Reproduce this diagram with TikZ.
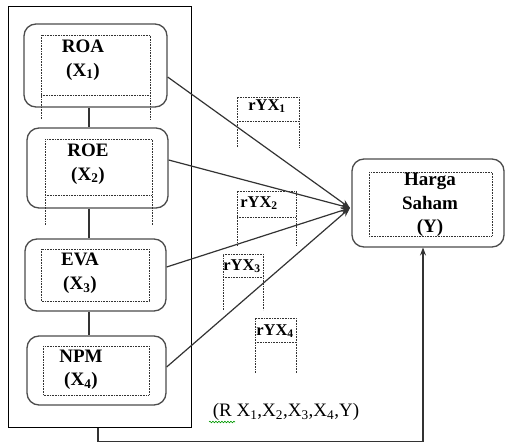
\documentclass[tikz,border=0pt]{standalone}
\usepackage{fontspec}
\setmainfont{Liberation Serif}
\usetikzlibrary{arrows.meta,decorations.pathmorphing}
\begin{document}
\begin{tikzpicture}[x=1pt,y=-1pt,
  rbox/.style={draw=black!70, line width=1.3pt, rounded corners=12pt, inner sep=0pt},
  outerbox/.style={draw=black, line width=1pt, inner sep=0pt},
  dotbox/.style={draw=black!80, line width=0.7pt, dash pattern=on 0.8pt off 0.8pt},
  txt/.style={font=\bfseries\fontsize{19}{23.5}\selectfont, align=center, inner sep=0pt},
  rtxt/.style={font=\bfseries\fontsize{16.5}{18}\selectfont, inner sep=0pt},
  link/.style={draw=black!80, line width=1.1pt},
  conn/.style={draw=black!80, line width=1.2pt, -{Stealth[length=9pt,width=7pt]}},
]
\useasboundingbox (0,0) rectangle (506,443);

% outer group
\node[outerbox, minimum width=183pt, minimum height=420pt] (outer) at (99.5,217) {};

% predictor boxes
\node[rbox, minimum width=143pt, minimum height=83pt] (roa) at (95.5,65.5) {};
\node[rbox, minimum width=141pt, minimum height=80pt] (roe) at (97.5,168) {};
\node[rbox, minimum width=141pt, minimum height=72pt] (eva) at (95.5,275) {};
\node[rbox, minimum width=139pt, minimum height=69pt] (npm) at (96.5,370.5) {};
\node[rbox, minimum width=152pt, minimum height=88pt] (harga) at (428,203) {};

% inner dotted frames
\draw[dotbox] (41,119) -- (41,35) -- (150,35) -- (150,119) (41,95) -- (150,95);
\draw[dotbox] (45,225) -- (45,139) -- (152,139) -- (152,225) (45,195) -- (152,195);
\draw[dotbox] (41,249) rectangle (149,301);
\draw[dotbox] (43,346) rectangle (149,395);
\draw[dotbox] (369,172) rectangle (492,236);

% rYX frames
\draw[dotbox] (237,147) -- (237,97) -- (299,97) -- (299,147) (237,121) -- (299,121);
\draw[dotbox] (237,246) -- (237,191) -- (296,191) -- (296,246) (237,217) -- (296,217);
\draw[dotbox] (223,310) -- (223,254) -- (263,254) -- (263,310) (223,277) -- (263,277);
\draw[dotbox] (255,373) -- (255,318) -- (296,318) -- (296,373) (255,342) -- (296,342);

% texts
\node[txt] (troa) at (83,60) {ROA\\(X\textsubscript{1})};
\node[txt] (troe) at (88,164) {ROE\\(X\textsubscript{2})};
\node[txt] (teva) at (80,273.5) {EVA\\(X\textsubscript{3})};
\node[txt] (tnpm) at (81,370) {NPM\\(X\textsubscript{4})};
\node[txt] (tharga) at (430,205) {Harga\\Saham\\(Y)};

\node[rtxt] (r1) at (267,106) {rYX\textsubscript{1}};
\node[rtxt] (r2) at (259,203) {rYX\textsubscript{2}};
\node[rtxt] (r3) at (242,266) {rYX\textsubscript{3}};
\node[rtxt] (r4) at (275,331) {rYX\textsubscript{4}};

\node[font=\fontsize{19}{20}\selectfont, inner sep=0pt] (rall) at (286,412)
  {(R X\textsubscript{1},X\textsubscript{2},X\textsubscript{3},X\textsubscript{4},Y)};
\draw[green!60!black, line width=0.6pt, decorate,
  decoration={snake, amplitude=0.8pt, segment length=3pt}] (209,422) -- (235,422);

% vertical links
\draw[link] ([xshift=-6.5pt]roa.south) -- ([xshift=-8.5pt]roe.north);
\draw[link] ([xshift=-8.5pt]roe.south) -- ([xshift=-6.5pt]eva.north);
\draw[link] ([xshift=-6.5pt]eva.south) -- ([xshift=-7.5pt]npm.north);

% connectors to Harga Saham
\coordinate (tip) at (350,208);
\draw[conn] ([yshift=-11.5pt]roa.east) -- (tip);
\draw[conn] ([yshift=8pt]roe.east) -- (tip);
\draw[conn] ([yshift=8pt]eva.east) -- (tip);
\draw[conn] ([yshift=3.5pt]npm.east) -- (tip);

% simultaneous link
\draw[draw=black!80, line width=1.1pt, -{Stealth[length=8pt,width=6pt]}]
  ([xshift=-1.5pt]outer.south) -- (98,441.5) -- (423,441.5) -- (423,247.5);
\end{tikzpicture}
\end{document}
